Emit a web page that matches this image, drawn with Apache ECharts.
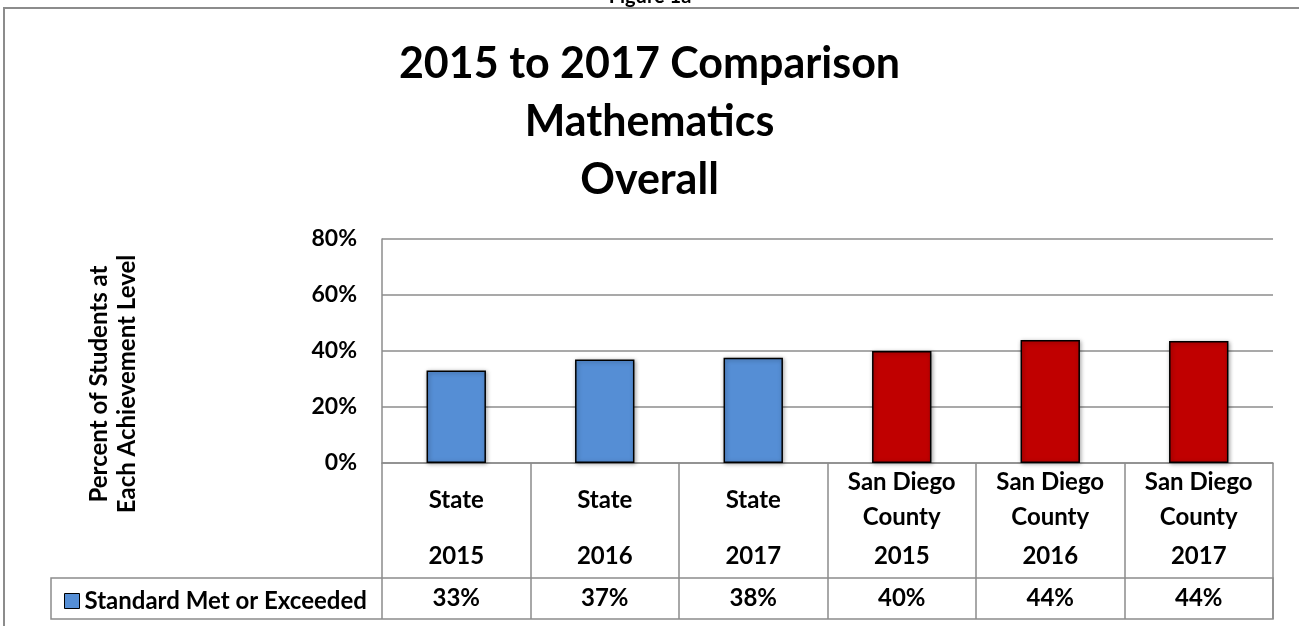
<!DOCTYPE html>
<html>
<head>
<meta charset="UTF-8">
<title>Figure 1a</title>
<style>
  html, body { margin: 0; padding: 0; background: #fff; }
  #chart { width: 1299px; height: 626px; }
</style>
</head>
<body>
<div id="chart"></div>
<script src="https://cdn.jsdelivr.net/npm/echarts@6/dist/echarts.min.js"></script>
<script>
// data
var groups = ['State', 'State', 'State', 'San Diego\nCounty', 'San Diego\nCounty', 'San Diego\nCounty'];
var years = ['2015', '2016', '2017', '2015', '2016', '2017'];
var metOrExceeded = [33, 37, 37.6, 40, 43.9, 43.6];
var barColors = ['#558ED5', '#558ED5', '#558ED5', '#C00000', '#C00000', '#C00000'];
var yTicks = [0, 20, 40, 60, 80];

var FONT = 'Lato, "Open Sans", sans-serif';
var GRAY = '#8c8c8c';

var categories = groups.map(function (g, i) { return g + '|' + years[i]; });
var tableLabels = metOrExceeded.map(function (v) { return Math.round(v) + '%'; });

var myChart = echarts.init(document.getElementById('chart'));

var option = {
    backgroundColor: '#fff',
    textStyle: { fontFamily: FONT },
    title: {
        text: '2015 to 2017 Comparison\nMathematics\nOverall',
        left: 'center',
        top: 30,
        textStyle: {
            fontFamily: FONT,
            fontSize: 43,
            fontWeight: 'bold',
            lineHeight: 58,
            color: '#000'
        }
    },
    legend: {
        data: ['Standard Met or Exceeded'],
        left: 59,
        top: 584,
        icon: 'rect',
        itemWidth: 15,
        itemHeight: 15,
        itemGap: 0,
        itemStyle: { borderColor: '#000', borderWidth: 1 },
        textStyle: { fontFamily: FONT, fontSize: 24, fontWeight: 'bold', color: '#000' }
    },
    grid: { left: 382, right: 26, top: 239, bottom: 163 },
    xAxis: [{
        type: 'category',
        data: categories,
        axisLine: { lineStyle: { color: GRAY, width: 1.5 } },
        axisTick: { show: true, length: 156, lineStyle: { color: GRAY, width: 1.5 } },
        axisLabel: {
            margin: 2,
            interval: 0,
            formatter: function (val) {
                var p = val.split('|');
                var lines = p[0].split('\n');
                if (lines.length === 1) {
                    return '{s|' + lines[0] + '}\n{y|' + p[1] + '}';
                }
                return '{n|' + lines[0] + '}\n{n|' + lines[1] + '}\n{y|' + p[1] + '}';
            },
            rich: {
                s: { fontFamily: FONT, fontSize: 24, fontWeight: 'bold', color: '#000', lineHeight: 70 },
                n: { fontFamily: FONT, fontSize: 24, fontWeight: 'bold', color: '#000', lineHeight: 35 },
                y: { fontFamily: FONT, fontSize: 24, fontWeight: 'bold', color: '#000', lineHeight: 42 }
            }
        }
    }, {
        type: 'category',
        position: 'bottom',
        offset: 115,
        data: tableLabels,
        axisLine: { show: false },
        axisTick: { show: false },
        axisLabel: {
            margin: 8,
            interval: 0,
            fontFamily: FONT, fontSize: 24, fontWeight: 'bold', color: '#000'
        }
    }],
    yAxis: {
        type: 'value',
        min: yTicks[0],
        max: yTicks[yTicks.length - 1],
        interval: yTicks[1] - yTicks[0],
        axisLine: { show: true, lineStyle: { color: GRAY, width: 1.5 } },
        axisTick: { show: false },
        splitLine: { lineStyle: { color: GRAY, width: 1.5 } },
        axisLabel: {
            margin: 25,
            formatter: '{value}%',
            fontFamily: FONT, fontSize: 23, fontWeight: 'bold', color: '#000'
        }
    },
    series: [{
        name: 'Standard Met or Exceeded',
        type: 'bar',
        barWidth: '40%',
        itemStyle: {
            color: barColors[0],
            borderColor: '#000',
            borderWidth: 1.5,
            shadowColor: 'rgba(0,0,0,0.35)',
            shadowBlur: 4,
            shadowOffsetX: 1,
            shadowOffsetY: 1
        },
        data: metOrExceeded.map(function (v, i) {
            return { value: v, itemStyle: { color: barColors[i] } };
        })
    }],
    graphic: [
        // outer figure frame
        { type: 'rect', silent: true, shape: { x: 4, y: 8, width: 1330, height: 700 },
          style: { fill: null, stroke: GRAY, lineWidth: 2 } },
        { type: 'text', silent: true, x: 650, y: 7,
          style: { text: 'Figure 1a', fontFamily: FONT, fontSize: 20, fontWeight: 'bold', fill: '#000',
                   textAlign: 'center', textVerticalAlign: 'bottom' } },
        // data table row
        { type: 'rect', silent: true, shape: { x: 51, y: 578, width: 1222, height: 41 },
          style: { fill: null, stroke: GRAY, lineWidth: 1.5 } },
        // y axis title
        { type: 'text', silent: true, x: 113, y: 384, rotation: Math.PI / 2,
          style: { text: 'Percent of Students at\nEach Achievement Level', fontFamily: FONT, fontSize: 24,
                   fontWeight: 'bold', fill: '#000', lineHeight: 28,
                   textAlign: 'center', textVerticalAlign: 'middle' } }
    ]
};

myChart.setOption(option);
</script>
</body>
</html>
